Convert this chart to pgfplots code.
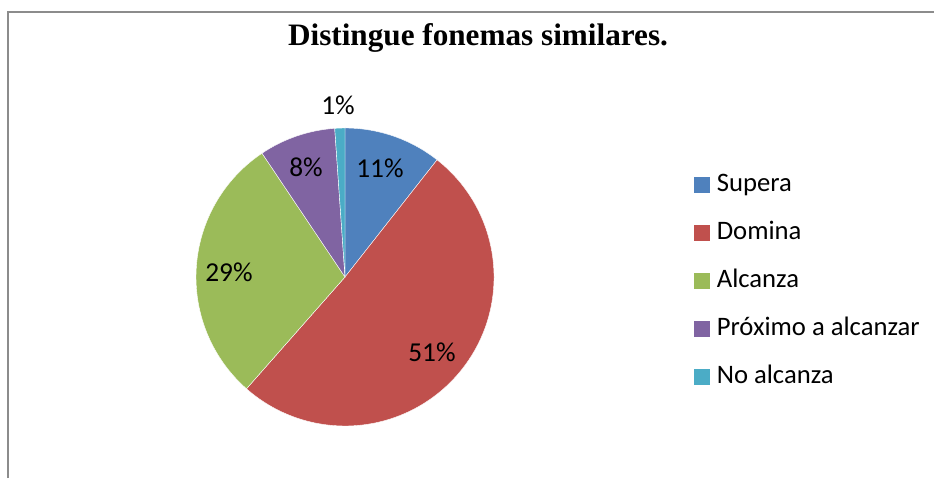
\documentclass[border=0pt]{standalone}
\usepackage{pgfplots}
\usepackage{pgfplotstable}
\pgfplotsset{compat=1.18}
\usepackage{fontspec}
\setmainfont{Carlito}
\newfontfamily\titlefont{Liberation Serif}
\definecolor{cSupera}{HTML}{4F81BD}
\definecolor{cDomina}{HTML}{C0504D}
\definecolor{cAlcanza}{HTML}{9BBB59}
\definecolor{cProximo}{HTML}{8064A2}
\definecolor{cNo}{HTML}{4BACC6}
\definecolor{frame}{HTML}{8C8C8C}

\pgfplotstableread{
value
10.6
50.9
29.1
8.3
1.1
}\piedata

\begin{document}
\begin{tikzpicture}
\useasboundingbox (0,0) rectangle (700.5pt,358.5pt);
\pgfplotstablegetelem{0}{value}\of\piedata\pgfmathsetmacro\va{\pgfplotsretval}
\pgfplotstablegetelem{1}{value}\of\piedata\pgfmathsetmacro\vb{\pgfplotsretval}
\pgfplotstablegetelem{2}{value}\of\piedata\pgfmathsetmacro\vc{\pgfplotsretval}
\pgfplotstablegetelem{3}{value}\of\piedata\pgfmathsetmacro\vd{\pgfplotsretval}
\pgfplotstablegetelem{4}{value}\of\piedata\pgfmathsetmacro\ve{\pgfplotsretval}
\pgfmathsetmacro\aA{90}
\pgfmathsetmacro\aB{90-3.6*\va}
\pgfmathsetmacro\aC{\aB-3.6*\vb}
\pgfmathsetmacro\aD{\aC-3.6*\vc}
\pgfmathsetmacro\aE{\aD-3.6*\vd}
\pgfmathsetmacro\aF{\aE-3.6*\ve}
\begin{axis}[
  at={(0,0)}, anchor=south west,
  scale only axis, width=700.5pt, height=358.5pt,
  xmin=0, xmax=934, ymin=0, ymax=478,
  hide axis, clip=false,
  legend style={at={(axis cs:694,306.4)}, anchor=north west, draw=none, fill=none,
    inner sep=0pt, font=\fontsize{20}{24}\selectfont, row sep=16pt,
    nodes={inner sep=0pt, text height=15pt, text depth=5pt}},
  legend cell align=left,
  legend image code/.code={\fill[#1] (0pt,-5.6pt) rectangle (11.25pt,5.6pt); \path (16.5pt,0pt);},
]
\addlegendimage{cSupera}\addlegendentry{Supera}
\addlegendimage{cDomina}\addlegendentry{Domina}
\addlegendimage{cAlcanza}\addlegendentry{Alcanza}
\addlegendimage{cProximo}\addlegendentry{Próximo a alcanzar}
\addlegendimage{cNo}\addlegendentry{No alcanza}

\draw[frame, line width=1.1pt] (axis cs:8,0) -- (axis cs:8,466) -- (axis cs:934,466);

\fill[cSupera, draw=white, line width=0.3pt] (axis cs:345,201) -- ++(\aA:111.75pt) arc[start angle=\aA, end angle=\aB, radius=111.75pt] -- cycle;
\fill[cDomina, draw=white, line width=0.3pt] (axis cs:345,201) -- ++(\aB:111.75pt) arc[start angle=\aB, end angle=\aC, radius=111.75pt] -- cycle;
\fill[cAlcanza, draw=white, line width=0.3pt] (axis cs:345,201) -- ++(\aC:111.75pt) arc[start angle=\aC, end angle=\aD, radius=111.75pt] -- cycle;
\fill[cProximo, draw=white, line width=0.3pt] (axis cs:345,201) -- ++(\aD:111.75pt) arc[start angle=\aD, end angle=\aE, radius=111.75pt] -- cycle;
\fill[cNo, draw=white, line width=0.3pt] (axis cs:345,201) -- ++(\aE:111.75pt) arc[start angle=\aE, end angle=\aF, radius=111.75pt] -- cycle;

\node[font=\titlefont\bfseries\fontsize{23.4}{27}\selectfont] at (axis cs:478,440) {Distingue fonemas similares.};
\begin{scope}[every node/.style={font=\fontsize{20.5}{24}\selectfont, inner sep=0pt}]
\node at (axis cs:380,310) {11\%};
\node at (axis cs:432,126) {51\%};
\node at (axis cs:229,206) {29\%};
\node at (axis cs:306,311) {8\%};
\node at (axis cs:338,373) {1\%};
\end{scope}
\end{axis}
\end{tikzpicture}
\end{document}
